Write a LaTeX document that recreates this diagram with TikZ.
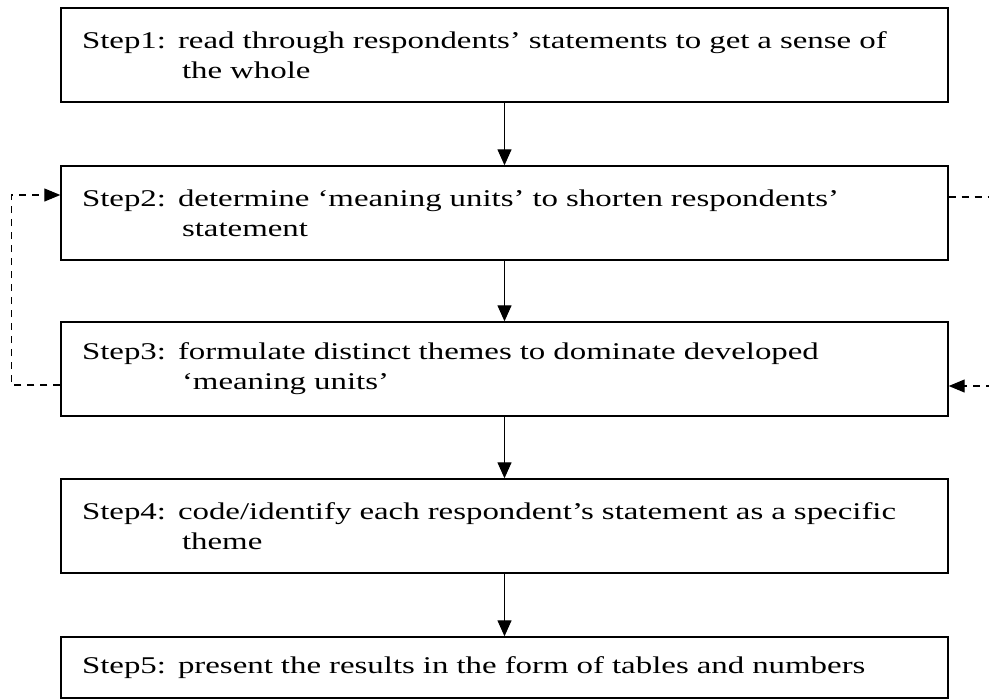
\documentclass[tikz,border=0pt]{standalone}
\usepackage{fontspec}
\setmainfont{Liberation Serif}[FakeStretch=1.37]
\usetikzlibrary{arrows.meta,calc}

\tikzset{
  stepbox/.style={draw, line width=1.4pt, minimum width=887pt, minimum height=94pt,
    text width=845pt, inner xsep=21pt, align=left,
    font=\fontsize{24pt}{30pt}\selectfont},
  flowarrow/.style={line width=1.3pt, -{Triangle[length=16pt,width=14pt]}},
  loopline/.style={line width=1.1pt, dash pattern=on 7pt off 6pt,
    -{Triangle[length=16pt,width=13pt]}}
}

\begin{document}
\begin{tikzpicture}[x=1pt,y=-1pt]
  \useasboundingbox (0,0) rectangle (989,699);
  \clip (0,0) rectangle (989,699);

  % the five steps
  \node[stepbox] (s1) at (504.5,55)
    {Step1: read through respondents’ statements to get a sense of\\\hspace*{100pt}the whole};
  \node[stepbox] (s2) at (504.5,213)
    {Step2: determine ‘meaning units’ to shorten respondents’\\\hspace*{100pt}statement};
  \node[stepbox] (s3) at (504.5,369)
    {Step3: formulate distinct themes to dominate developed\\\hspace*{100pt}‘meaning units’};
  \node[stepbox] (s4) at (504.5,526)
    {Step4: code/identify each respondent’s statement as a specific\\\hspace*{100pt}theme};
  \node[stepbox, minimum height=61pt] (s5) at (504.5,667.5)
    {Step5: present the results in the form of tables and numbers};

  % main flow
  \draw[flowarrow] (s1.south) -- (s2.north);
  \draw[flowarrow] (s2.south) -- (s3.north);
  \draw[flowarrow] (s3.south) -- (s4.north);
  \draw[flowarrow] (s4.south) -- (s5.north);

  % feedback loops between steps 2 and 3
  \draw[loopline] ([yshift=-16pt]s3.west) -- ++(-49,0) |- ([yshift=18pt]s2.west);
  \draw[loopline] ([yshift=16pt]s2.east) -- ++(90,0) |- ([yshift=-17pt]s3.east);
\end{tikzpicture}
\end{document}
